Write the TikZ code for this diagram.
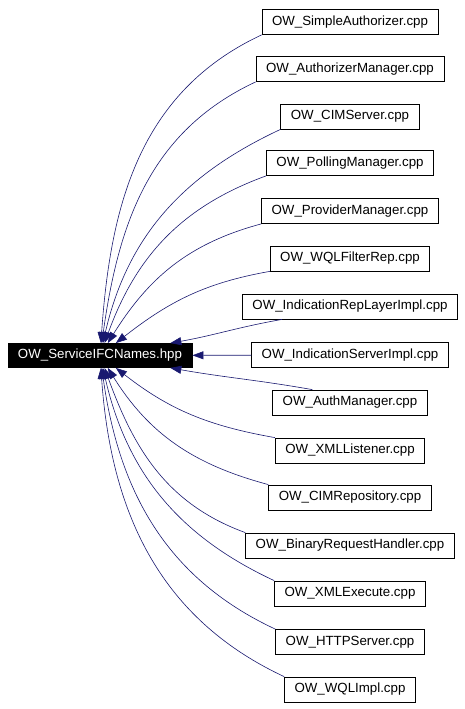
\documentclass[tikz,border=0pt]{standalone}
\usepackage{fontspec}
\setmainfont{Liberation Sans}
\usetikzlibrary{arrows.meta}
\definecolor{edgeblue}{HTML}{191970}
\tikzstyle{filebox}=[draw=black, fill=white, line width=0.8pt, minimum height=25pt,% one box per including file
inner xsep=10pt, font=\fontsize{13.3}{15}\selectfont]
\tikzstyle{mainbox}=[draw=black, fill=black, text=white, line width=0.8pt, minimum height=24pt,
inner xsep=10pt, font=\fontsize{13.3}{15}\selectfont]
\tikzstyle{dep}=[-{Triangle[length=11pt,width=8pt]}, draw=edgeblue, line width=0.6pt]

\begin{document}
\begin{tikzpicture}[x=1pt,y=-1pt]
\useasboundingbox (0,0) rectangle (464,709);

\node[mainbox] (main) at (100,355.5) {OW\_ServiceIFCNames.hpp};

\node[filebox] (s1) at (350,22) {OW\_SimpleAuthorizer.cpp};
\node[filebox] (s2) at (350,69) {OW\_AuthorizerManager.cpp};
\node[filebox] (s3) at (350,116.5) {OW\_CIMServer.cpp};
\node[filebox] (s4) at (350,163) {OW\_PollingManager.cpp};
\node[filebox] (s5) at (350,211) {OW\_ProviderManager.cpp};
\node[filebox] (s6) at (350,258.5) {OW\_WQLFilterRep.cpp};
\node[filebox] (s7) at (350,306.5) {OW\_IndicationRepLayerImpl.cpp};
\node[filebox] (s8) at (350,355) {OW\_IndicationServerImpl.cpp};
\node[filebox] (s9) at (350,402.5) {OW\_AuthManager.cpp};
\node[filebox] (s10) at (350,450.5) {OW\_XMLListener.cpp};
\node[filebox] (s11) at (350,497.5) {OW\_CIMRepository.cpp};
\node[filebox] (s12) at (350,545.5) {OW\_BinaryRequestHandler.cpp};
\node[filebox] (s13) at (350,593.5) {OW\_XMLExecute.cpp};
\node[filebox] (s14) at (350,642) {OW\_HTTPServer.cpp};
\node[filebox] (s15) at (350,689.5) {OW\_WQLImpl.cpp};

\draw[dep] (s1.south west) to[out=205,in=86] (main);
\draw[dep] (s2.south west) to[out=205,in=82] (main);
\draw[dep] (s3.south west) to[out=205,in=77] (main);
\draw[dep] (s4.south west) to[out=200,in=70] (main);
\draw[dep] (s5.south west) to[out=195,in=58] (main);
\draw[dep] (s6.south west) to[out=190,in=38] (main);
\draw[dep] ([xshift=40pt]s7.south west) to[out=190,in=10] (main);
\draw[dep] (s8) -- (main);
\draw[dep] ([xshift=40pt]s9.north west) to[out=170,in=-10] (main);
\draw[dep] (s10.north west) to[out=170,in=-38] (main);
\draw[dep] (s11.north west) to[out=165,in=-58] (main);
\draw[dep] (s12.north west) to[out=160,in=-70] (main);
\draw[dep] (s13.north west) to[out=155,in=-77] (main);
\draw[dep] (s14.north west) to[out=155,in=-82] (main);
\draw[dep] (s15.north west) to[out=155,in=-86] (main);

\end{tikzpicture}
\end{document}
